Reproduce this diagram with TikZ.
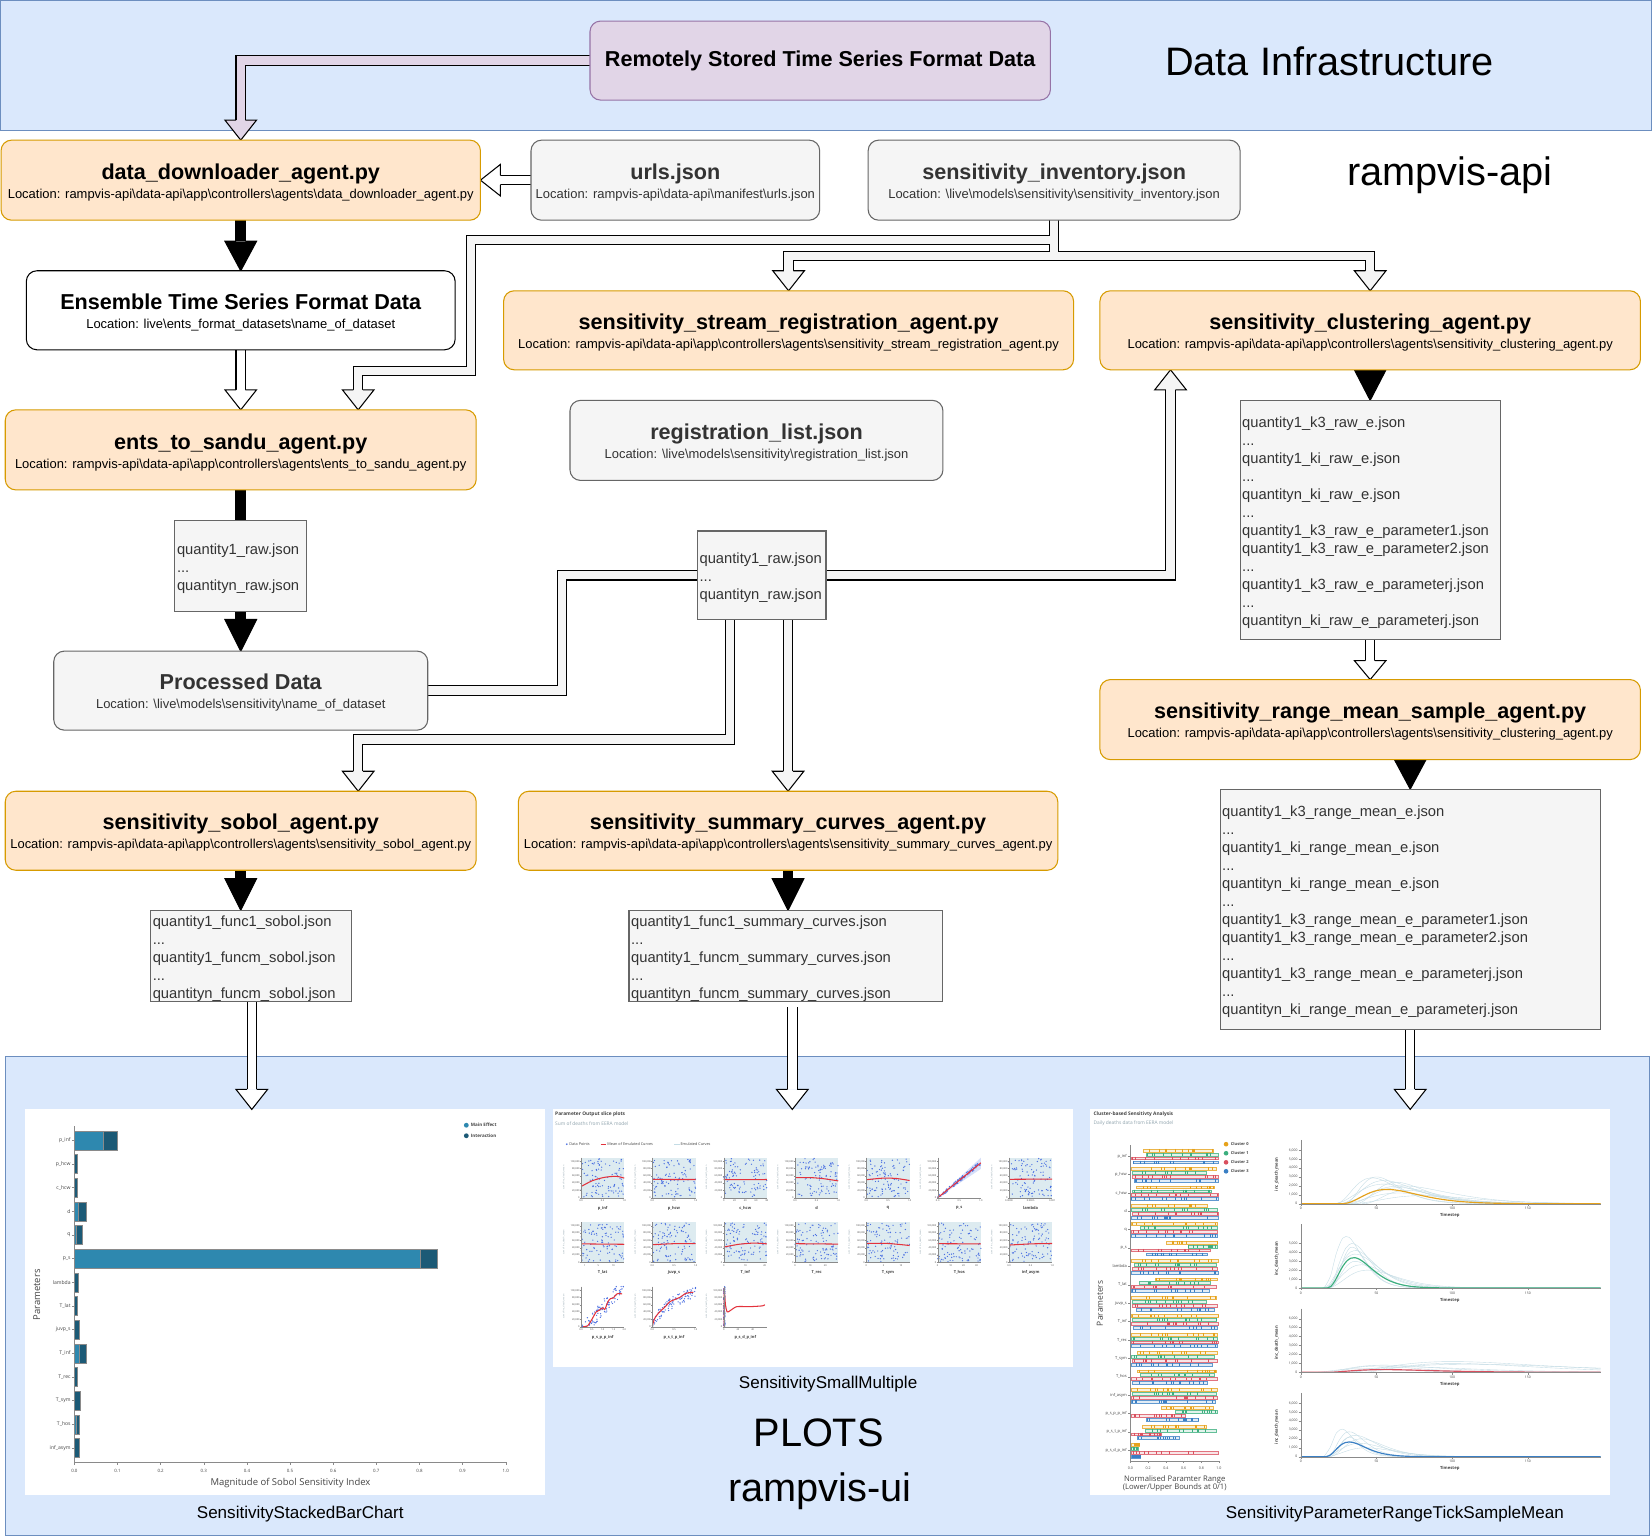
\documentclass[tikz,border=0pt]{standalone}
\usepackage{fontspec}
\setmainfont{Liberation Sans}
\newfontfamily\plotfont{Open Sans}
\usetikzlibrary{calc}

\pgfdeclarelayer{back}
\pgfdeclarelayer{wires}
\pgfsetlayers{back,wires,main}

\definecolor{bandfill}{HTML}{DAE8FC}
\definecolor{bandline}{HTML}{6C8EBF}
\definecolor{agentfill}{HTML}{FFE6CC}
\definecolor{agentline}{HTML}{D79B00}
\definecolor{filefill}{HTML}{F5F5F5}
\definecolor{fileline}{HTML}{666666}
\definecolor{filetext}{HTML}{333333}
\definecolor{srcfill}{HTML}{E1D5E7}
\definecolor{srcline}{HTML}{9673A6}
\definecolor{maineff}{HTML}{2E88AF}
\definecolor{intereff}{HTML}{1C5A76}
\definecolor{dotblue}{HTML}{4B70E2}
\definecolor{meanred}{HTML}{E3323C}
\definecolor{emul}{HTML}{DDEBF0}
\definecolor{emulline}{HTML}{C4DCE5}
\definecolor{cl0}{HTML}{E6A21B}
\definecolor{cl1}{HTML}{3CAF7E}
\definecolor{cl2}{HTML}{D9505F}
\definecolor{cl3}{HTML}{3A7FC4}
\definecolor{axisgray}{HTML}{8A8A8A}
\definecolor{ticktext}{HTML}{444444}
\definecolor{subtext}{HTML}{8FA3AD}

\newcommand\bsl{\textbackslash}
\newcommand\boxttl{\fontsize{20.5}{21}\selectfont\bfseries}
\newcommand\boxloc{\fontsize{12.3}{18}\selectfont}
\newcommand\agenttext[2]{{\boxttl\rule{0pt}{19pt}#1}\\{\boxloc #2}}
\newcommand\plotsize[1]{\plotfont\fontsize{#1}{#1}\selectfont}

\tikzset{
  lbl/.style={inner sep=0pt, outer sep=0pt},
  boxbase/.style={anchor=north west, line width=1pt, inner sep=2pt, outer sep=0pt, align=center, font=\boxloc},
  agent/.style={boxbase, draw=agentline, fill=agentfill, rounded corners=10pt, text=black},
  filebox/.style={boxbase, draw=fileline, fill=filefill, rounded corners=10pt, text=filetext},
  plainbox/.style={boxbase, draw=black, fill=white, rounded corners=10pt, text=black},
  srcbox/.style={boxbase, draw=srcline, fill=srcfill, rounded corners=10pt, text=black},
  listbox/.style={anchor=north west, draw=fileline, fill=filefill, line width=1pt, inner xsep=2pt, inner ysep=0pt, outer sep=0pt, align=left, text=filetext, font=\fontsize{14}{17.1}\selectfont, execute at begin node={\rule{0pt}{15.5pt}}},
  band/.style={fill=bandfill, draw=bandline, line width=1pt},
  plotframe/.style={anchor=north west, fill=white, inner sep=0pt, outer sep=0pt},
  shaftout/.style={line width=10pt, draw=black, line join=miter},
  shaftin/.style={line width=8pt, draw=#1, line join=miter},
  bigtext/.style={lbl, font=\fontsize{37.7}{40}\selectfont},
  caption/.style={lbl, font=\fontsize{16.2}{18}\selectfont},
}

% hollow block arrow: head triangle from a base point to a tip
\newcommand\flexhead[3]{%
  \fill[#1] ($(#2)!15pt!90:(#3)$) -- (#3) -- ($(#2)!15pt!-90:(#3)$) -- cycle;
  \draw[line width=1pt, line join=miter] ($(#2)!4.5pt!90:(#3)$) -- ($(#2)!15pt!90:(#3)$) -- (#3) -- ($(#2)!15pt!-90:(#3)$) -- ($(#2)!4.5pt!-90:(#3)$);}
% block arrow: fill colour, shaft path (ending at base), base, tip
\newcommand\flexarrow[4]{%
  \draw[shaftout] #2;
  \draw[shaftin=#1] #2;
  \flexhead{#1}{#3}{#4}}

% scatter points of one slice plot (unit square)
\newcommand\scatterdots[1]{%
  \foreach \kk in {1,...,100}{%
    \pgfmathsetmacro\px{rnd}%
    \ifcase #1\relax
      \pgfmathsetmacro\py{0.02+0.96*rnd}%
    \or
      \pgfmathsetmacro\py{max(0,min(1,0.88*\px+0.05*rand))}%
    \or
      \pgfmathsetmacro\py{max(0,min(1,1.15*\px-0.12+0.2*rand))}%
    \or
      \pgfmathsetmacro\py{max(0,min(1,0.95*sqrt(\px)-0.05+0.15*rand))}%
    \else
      \pgfmathsetmacro\py{rnd}\pgfmathsetmacro\px{0.03*\px}%
    \fi
    \fill[dotblue] (\px,\py) circle (0.65pt);}}

% one slice plot: left x, bottom y, label, mean curve, point kind, band, x ticks
\newcommand\smpanel[7]{%
  \begin{scope}[shift={(#1pt,-#2pt)}, x=41pt, y=38pt]
    \ifnum#6=1 \fill[emul] (0,0) rectangle (1,1);\fi
    \ifnum#5=1 \fill[dotblue!22] (0,0) -- (1,1) -- (1,0.72) -- cycle;\fi
    \scatterdots{#5}
    \draw[meanred, line width=1pt, line join=round] plot[smooth, tension=0.4] coordinates {#4};
    \draw[axisgray, line width=0.3pt] (0,1) -- (0,0) -- (1,0);
    \foreach \vv/\txt in {0/0, 0.182/{20,000}, 0.364/{40,000}, 0.545/{60,000}, 0.727/{80,000}, 0.909/{100,000}}{%
      \draw[axisgray, line width=0.25pt] (-0.025,\vv) -- (0,\vv);
      \node[lbl, anchor=east, font=\plotsize{2.3}, text=ticktext] at (-0.035,\vv) {\txt};}
    \foreach \xv/\xl in {#7}{%
      \node[lbl, anchor=north, font=\plotsize{2.3}, text=ticktext] at (\xv,-0.05) {\xl};}
    \node[lbl, font=\plotsize{3.8}\bfseries, text=ticktext] at (0.5,-0.26) {#3};
    \node[lbl, rotate=90, font=\plotsize{2.1}, text=subtext] at (-0.4,0.5) {sum of inc\_death\_mean};
  \end{scope}}

% one parameter range bar with sample ticks
\newcommand\tickbar[4]{%
  \pgfmathsetmacro\xa{1073+84*#2}%
  \pgfmathsetmacro\xb{1073+84*#3}%
  \filldraw[fill=#1!15, draw=#1!80, line width=0.3pt] (\xa,#4-1.35) rectangle (\xb,#4+1.35);
  \foreach \kk in {1,...,12}{%
    \pgfmathsetmacro\tx{\xa+(\xb-\xa)*rnd}%
    \draw[#1, line width=0.45pt] (\tx,#4-1.35) -- (\tx,#4+1.35);}}

% one cluster time series: baseline, colour, peak, onset, rise, shape, sample curves, y ticks
\newcommand\tsplot[8]{%
  \begin{scope}[shift={(1234.6pt,-#1pt)}, x=1.437pt, y=0.00848pt]
    \foreach \ampl/\tz/\pp in {#7}{%
      \pgfmathsetmacro\ts{\tz+0.3}%
      \draw[emulline, line width=0.35pt] plot[domain=\ts:198, samples=45, smooth] (\x,{\ampl*(((\x-\tz)/\pp*exp(1-(\x-\tz)/\pp))^#6)});}
    \pgfmathsetmacro\ts{#4+0.3}%
    \draw[#2, line width=1.1pt] (0,0) -- (#4,0) -- plot[domain=\ts:198, samples=70, smooth] (\x,{#3*(((\x-#4)/#5*exp(1-(\x-#4)/#5))^#6)});
    \draw[axisgray, line width=0.35pt] (0,7130) -- (0,0) -- (198,0);
    \foreach \vv/\txt in {#8}{%
      \draw[axisgray, line width=0.3pt] (-1.4,\vv) -- (0,\vv);
      \node[lbl, anchor=east, font=\plotsize{3.2}, text=ticktext] at (-2.2,\vv) {\txt};}
    \foreach \tv in {0,50,100,150}{%
      \draw[axisgray, line width=0.3pt] (\tv,0) -- (\tv,-250);
      \node[lbl, anchor=north, font=\plotsize{3.2}, text=ticktext] at (\tv,-420) {\tv};}
    \node[lbl, font=\plotsize{4}\bfseries, text=ticktext] at (98.4,-1360) {Timestep};
    \node[lbl, rotate=90, font=\plotsize{4}\bfseries, text=ticktext] at (-15.9,3300) {inc\_death\_mean};
  \end{scope}}

\begin{document}
\begin{tikzpicture}[x=1pt, y=-1pt]
\useasboundingbox (0,0) rectangle (1568,1459);
\pgfmathsetseed{2718}

\begin{pgfonlayer}{back}
  \fill[white] (0,0) rectangle (1568,1459);
  \draw[band] (0.5,0.5) rectangle (1567.5,123.5);
  \draw[band] (5,1003) rectangle (1566,1457);

  % ---- stacked Sobol bar chart
  \node[plotframe, minimum width=493pt, minimum height=366pt] (barplot) at (24,1053) {};
  \draw[axisgray, line width=0.5pt] (70.6,1069) -- (70.6,1388) -- (480,1388);
  \foreach \kk/\txt in {0/0.0,1/0.1,2/0.2,3/0.3,4/0.4,5/0.5,6/0.6,7/0.7,8/0.8,9/0.9,10/1.0}{%
    \draw[axisgray, line width=0.4pt] (70.6+40.94*\kk,1388) -- (70.6+40.94*\kk,1390.5);
    \node[lbl, font=\plotsize{4.2}, text=ticktext] at (70.6+40.94*\kk,1396) {\txt};}
  \foreach \lab/\mv/\tv [count=\ii from 0] in {p\_inf/0.066/0.0995, p\_hcw/0/0.006, c\_hcw/0/0.006, d/0.009/0.028, q/0.003/0.018, p\_s/0.802/0.841, lambda/0/0.0086, T\_lat/0/0.007, juvp\_s/0/0.011, T\_inf/0.01/0.027, T\_rec/0/0.007, T\_sym/0/0.013, T\_hos/0.004/0.012, inf\_asym/0/0.011}{%
    \pgfmathsetmacro\yy{1082.3+22.46*\ii}%
    \pgfmathsetmacro\xm{70.6+409.4*\mv}%
    \pgfmathsetmacro\xt{70.6+409.4*\tv}%
    \filldraw[fill=maineff, draw=axisgray, line width=0.3pt] (70.6,\yy-9) rectangle (\xm,\yy+9);
    \filldraw[fill=intereff, draw=axisgray, line width=0.3pt] (\xm,\yy-9) rectangle (\xt,\yy+9);
    \draw[axisgray, line width=0.4pt] (68.3,\yy) -- (70.6,\yy);
    \node[lbl, anchor=east, font=\plotsize{4.8}, text=ticktext] at (67,\yy) {\lab};}
  \node[lbl, font=\plotsize{9}, text=ticktext] at (275.7,1408) {Magnitude of Sobol Sensitivity Index};
  \node[lbl, rotate=90, font=\plotsize{9}, text=ticktext] at (35,1229) {Parameters};
  \fill[maineff] (442.6,1068) circle (2.3pt);
  \node[lbl, anchor=west, font=\plotsize{4.3}\bfseries, text=ticktext] at (447,1068) {Main Effect};
  \fill[intereff] (442.6,1078) circle (2.3pt);
  \node[lbl, anchor=west, font=\plotsize{4.3}\bfseries, text=ticktext] at (447,1078) {Interaction};

  % ---- slice plots small multiple
  \node[plotframe, minimum width=493pt, minimum height=244pt] (smplot) at (525,1053) {};
  \node[lbl, anchor=west, font=\plotsize{4.6}\bfseries, text=ticktext] at (527,1058) {Parameter Output slice plots};
  \node[lbl, anchor=west, font=\plotsize{4.6}, text=subtext] at (527,1066.5) {Sum of deaths from EERA model};
  \fill[dotblue] (538,1086) circle (0.9pt);
  \node[lbl, anchor=west, font=\plotsize{3.6}, text=ticktext] at (540.5,1086) {Data Points};
  \draw[meanred, line width=1pt] (570,1086) -- (575.5,1086);
  \node[lbl, anchor=west, font=\plotsize{3.6}, text=ticktext] at (576.6,1086) {Mean of Emulated Curves};
  \draw[emulline, line width=1pt] (640,1086) -- (645,1086);
  \node[lbl, anchor=west, font=\plotsize{3.6}, text=ticktext] at (646,1086) {Emulated Curves};

  \smpanel{551.5}{1136.8}{p\_inf}{(0,0.28) (0.25,0.42) (0.5,0.5) (0.7,0.53) (0.85,0.53) (1,0.49)}{0}{1}{0/0.0,0.5/0.5,1/1.0}
  \smpanel{619.2}{1136.8}{p\_hcw}{(0,0.46) (0.5,0.455) (1,0.455)}{0}{1}{0/0.0,0.5/0.5,1/1.0}
  \smpanel{686.9}{1136.8}{c\_hcw}{(0,0.455) (0.5,0.45) (1,0.455)}{0}{1}{0/0,0.25/20,0.5/40,0.75/60,1/80}
  \smpanel{754.6}{1136.8}{d}{(0,0.5) (0.4,0.5) (0.7,0.47) (1,0.42)}{0}{1}{0/0.0,0.5/0.5,1/1.0}
  \smpanel{822.3}{1136.8}{q}{(0,0.45) (0.4,0.49) (0.7,0.48) (1,0.43)}{0}{1}{0/0.0,0.5/0.5,1/1.0}
  \smpanel{890.0}{1136.8}{p\_s}{(0,0) (1,0.87)}{1}{0}{0/0.0,0.5/0.5,1/1.0}
  \smpanel{957.7}{1136.8}{lambda}{(0,0.46) (1,0.465)}{0}{1}{0/0.0000,0.5/0.0005,1/0.001}
  \smpanel{551.5}{1198.1}{T\_lat}{(0,0.46) (1,0.45)}{0}{1}{0.08/1,0.4/5,0.75/10}
  \smpanel{619.2}{1198.1}{juvp\_s}{(0,0.44) (0.5,0.465) (1,0.465)}{0}{1}{0/0.0,0.5/0.5,1/1.0}
  \smpanel{686.9}{1198.1}{T\_inf}{(0,0.38) (0.35,0.45) (0.7,0.48) (1,0.46)}{0}{1}{0/0,0.5/10,0.95/20}
  \smpanel{754.6}{1198.1}{T\_rec}{(0,0.465) (1,0.455)}{0}{1}{0/0,0.35/10,0.7/20}
  \smpanel{822.3}{1198.1}{T\_sym}{(0,0.47) (0.5,0.47) (1,0.42)}{0}{1}{0/0,0.4/5,0.8/10}
  \smpanel{890.0}{1198.1}{T\_hos}{(0,0.465) (1,0.46)}{0}{1}{0/0,0.3/10,0.6/20,0.9/30}
  \smpanel{957.7}{1198.1}{inf\_asym}{(0,0.43) (0.5,0.46) (1,0.47)}{0}{1}{0/0.0,0.5/0.5,1/1.0}
  \smpanel{551.5}{1259.2}{p\_s\_p\_p\_inf}{(0.05,0) (0.15,0.02) (0.25,0.18) (0.35,0.37) (0.42,0.41) (0.5,0.47) (0.55,0.43) (0.62,0.62) (0.68,0.7) (0.75,0.72) (0.83,0.82) (0.95,0.82)}{2}{0}{0/0.0,0.25/0.5,0.5/1.0,0.75/1.5,1/2.0}
  \smpanel{619.2}{1259.2}{p\_s\_t\_p\_inf}{(0,0.02) (0.05,0.2) (0.15,0.35) (0.3,0.5) (0.4,0.62) (0.5,0.67) (0.65,0.74) (0.75,0.82) (0.85,0.85) (0.95,0.86)}{3}{0}{0/0.0,0.5/0.5,1/1.0}
  \smpanel{686.9}{1259.2}{p\_s\_d\_p\_inf}{(0.01,0) (0.01,0.95) (0.04,0.55) (0.08,0.37) (0.15,0.4) (0.3,0.5) (0.6,0.5) (0.9,0.52) (0.95,0.55)}{4}{0}{0/0,0.33/20,0.67/40}

  % ---- cluster based sensitivity analysis
  \node[plotframe, minimum width=493pt, minimum height=366pt] (clplot) at (1035,1053) {};
  \node[lbl, anchor=west, font=\plotsize{4.6}\bfseries, text=ticktext] at (1038,1058) {Cluster-based Sensitivty Analysis};
  \node[lbl, anchor=west, font=\plotsize{4.6}, text=subtext] at (1038,1066.5) {Daily deaths data from EERA model};
  \draw[axisgray, line width=0.4pt] (1073,1087) -- (1073,1386.7) -- (1157,1386.7);
  \foreach \kk/\txt in {0/0.0,1/0.2,2/0.4,3/0.6,4/0.8,5/1.0}{%
    \draw[axisgray, line width=0.3pt] (1073+16.8*\kk,1386.7) -- (1073+16.8*\kk,1388.7);
    \node[lbl, font=\plotsize{3.4}, text=ticktext] at (1073+16.8*\kk,1394) {\txt};}
  \node[lbl, font=\plotsize{7.3}, text=ticktext, align=center] at (1115,1408) {Normalised Paramter Range\\(Lower/Upper Bounds at 0/1)};
  \node[lbl, rotate=90, font=\plotsize{8}, text=ticktext] at (1044,1237) {Parameters};
  \foreach \cc/\yy/\txt in {cl0/1086/Cluster 0, cl1/1094.6/Cluster 1, cl2/1103.2/Cluster 2, cl3/1111.7/Cluster 3}{%
    \fill[\cc] (1163.7,\yy) circle (2.2pt);
    \node[lbl, anchor=west, font=\plotsize{3.8}\bfseries, text=ticktext] at (1168.3,\yy) {\txt};}
  \foreach \lab/\aL/\aU/\bL/\bU/\cL/\cU/\dL/\dU [count=\jj from 0] in {
    p\_inf/0.145/0.93/0.18/0.99/0.01/0.985/0.03/0.985,
    p\_hcw/0.01/0.97/0.02/0.85/0.02/0.99/0.04/0.99,
    c\_hcw/0.06/0.95/0.02/0.91/0.01/0.99/0.01/0.99,
    d/0.01/0.87/0.01/0.98/0.02/0.99/0.01/0.99,
    q/0.01/0.98/0.11/0.98/0.01/0.98/0.01/0.98,
    p\_s/0.40/0.98/0.65/0.98/0.01/0.90/0.18/0.87,
    lambda/0.01/0.99/0.04/0.97/0.02/0.98/0.01/0.99,
    T\_lat/0.28/0.98/0.10/0.90/0.01/0.97/0.01/0.89,
    juvp\_s/0.01/0.97/0.02/0.86/0.02/0.98/0.06/0.95,
    T\_inf/0.01/0.99/0.02/0.97/0.01/0.99/0.03/0.98,
    T\_rec/0.01/0.98/0.01/0.98/0.01/0.99/0.01/0.98,
    T\_sym/0.08/0.98/0.01/0.95/0.02/0.98/0.01/0.92,
    T\_hos/0.08/0.97/0.11/0.95/0.01/0.98/0.02/0.87,
    inf\_asym/0.01/0.98/0.02/0.97/0.01/0.98/0.01/0.96,
    p\_s\_p\_p\_inf/0.35/0.93/0.51/0.98/0.01/0.62/0.18/0.77,
    p\_s\_t\_p\_inf/0.13/0.85/0.16/0.97/0.01/0.35/0.08/0.55,
    p\_s\_d\_p\_inf/0.01/0.10/0.01/0.09/0.01/0.99/0.01/0.11}{%
    \pgfmathsetmacro\yy{1097.2+17.46*\jj}%
    \draw[axisgray, line width=0.3pt] (1071,\yy) -- (1073,\yy);
    \node[lbl, anchor=east, font=\plotsize{3.8}, text=ticktext] at (1069.5,\yy) {\lab};
    \tickbar{cl0}{\aL}{\aU}{\yy-5.3}
    \tickbar{cl1}{\bL}{\bU}{\yy-1.6}
    \tickbar{cl2}{\cL}{\cU}{\yy+2.1}
    \tickbar{cl3}{\dL}{\dU}{\yy+5.8}}

  \tsplot{1142.5}{cl0}{1600}{26}{31}{3}{2900/22/25, 2600/25/30, 2200/20/35, 3000/28/22, 1800/30/35, 1200/25/40, 2400/35/28, 900/30/50, 2000/22/45, 1500/40/30}{0/0,1000/{1,000},2000/{2,000},3000/{3,000},4000/{4,000},5000/{5,000},6000/{6,000}}
  \tsplot{1222.5}{cl1}{3400}{17}{18}{3}{5800/15/15, 5000/17/17, 4200/16/20, 3800/14/22, 3000/18/18, 2600/15/25, 4600/20/14, 2000/16/28}{0/0,1000/{1,000},2000/{2,000},3000/{3,000},4000/{4,000},5000/{5,000}}
  \tsplot{1302.5}{cl2}{300}{18}{37}{2}{800/15/40, 1200/30/70, 600/20/50, 1000/40/60, 400/10/30, 900/25/85, 700/20/30}{0/0,1000/{1,000},2000/{2,000},3000/{3,000},4000/{4,000},5000/{5,000},6000/{6,000}}
  \tsplot{1382.6}{cl3}{1650}{16}{16}{3}{3100/15/12, 2800/17/15, 2400/16/20, 2000/18/22, 1500/14/25, 2200/20/12, 1000/15/28}{0/0,1000/{1,000},2000/{2,000},3000/{3,000},4000/{4,000},5000/{5,000},6000/{6,000}}
\end{pgfonlayer}

% ---- boxes
\node[srcbox, minimum width=437pt, minimum height=75pt] (remote) at (560,20) {{\boxttl Remotely Stored Time Series Format Data}};
\node[agent, minimum width=455pt, minimum height=76pt] (dd) at (1,133) {\agenttext{data\_downloader\_agent.py}{Location: rampvis-api\bsl data-api\bsl app\bsl controllers\bsl agents\bsl data\_downloader\_agent.py}};
\node[filebox, minimum width=274pt, minimum height=76pt] (urls) at (504,133) {\agenttext{urls.json}{Location: rampvis-api\bsl data-api\bsl manifest\bsl urls.json}};
\node[filebox, minimum width=353pt, minimum height=76pt] (inv) at (824,133) {\agenttext{sensitivity\_inventory.json}{Location: \bsl live\bsl models\bsl sensitivity\bsl sensitivity\_inventory.json}};
\node[plainbox, minimum width=407pt, minimum height=75pt] (ens) at (25,257) {\agenttext{Ensemble Time Series Format Data}{Location: live\bsl ents\_format\_datasets\bsl name\_of\_dataset}};
\node[agent, minimum width=541pt, minimum height=75pt] (stream) at (478,276) {\agenttext{sensitivity\_stream\_registration\_agent.py}{Location: rampvis-api\bsl data-api\bsl app\bsl controllers\bsl agents\bsl sensitivity\_stream\_registration\_agent.py}};
\node[agent, minimum width=513pt, minimum height=75pt] (clus) at (1044,276) {\agenttext{sensitivity\_clustering\_agent.py}{Location: rampvis-api\bsl data-api\bsl app\bsl controllers\bsl agents\bsl sensitivity\_clustering\_agent.py}};
\node[agent, minimum width=447pt, minimum height=76pt] (ents) at (5,389) {\agenttext{ents\_to\_sandu\_agent.py}{Location: rampvis-api\bsl data-api\bsl app\bsl controllers\bsl agents\bsl ents\_to\_sandu\_agent.py}};
\node[filebox, minimum width=354pt, minimum height=76pt] (reg) at (541,380) {\agenttext{registration\_list.json}{Location: \bsl live\bsl models\bsl sensitivity\bsl registration\_list.json}};
\node[listbox, text width=121pt, minimum height=86pt] (q1) at (166,494) {quantity1\_raw.json\\...\\quantityn\_raw.json};
\node[filebox, minimum width=355pt, minimum height=75pt] (proc) at (51,618) {\agenttext{Processed Data}{Location: \bsl live\bsl models\bsl sensitivity\bsl name\_of\_dataset}};
\node[listbox, text width=118pt, minimum height=84pt] (q2) at (662,504) {quantity1\_raw.json\\...\\quantityn\_raw.json};
\node[listbox, text width=243pt, minimum height=227pt] (k3) at (1177,380) {quantity1\_k3\_raw\_e.json\\...\\quantity1\_ki\_raw\_e.json\\...\\quantityn\_ki\_raw\_e.json\\...\\quantity1\_k3\_raw\_e\_parameter1.json\\quantity1\_k3\_raw\_e\_parameter2.json\\...\\quantity1\_k3\_raw\_e\_parameterj.json\\...\\quantityn\_ki\_raw\_e\_parameterj.json};
\node[agent, minimum width=513pt, minimum height=76pt] (range) at (1044,645) {\agenttext{sensitivity\_range\_mean\_sample\_agent.py}{Location: rampvis-api\bsl data-api\bsl app\bsl controllers\bsl agents\bsl sensitivity\_clustering\_agent.py}};
\node[agent, minimum width=447pt, minimum height=75pt] (sobol) at (5,751) {\agenttext{sensitivity\_sobol\_agent.py}{Location: rampvis-api\bsl data-api\bsl app\bsl controllers\bsl agents\bsl sensitivity\_sobol\_agent.py}};
\node[agent, minimum width=512pt, minimum height=75pt] (summ) at (492,751) {\agenttext{sensitivity\_summary\_curves\_agent.py}{Location: rampvis-api\bsl data-api\bsl app\bsl controllers\bsl agents\bsl sensitivity\_summary\_curves\_agent.py}};
\node[listbox, text width=187pt, minimum height=85pt] (sobj) at (143,864) {quantity1\_func1\_sobol.json\\...\\quantity1\_funcm\_sobol.json\\...\\quantityn\_funcm\_sobol.json};
\node[listbox, text width=294pt, minimum height=85pt] (sumj) at (597,864) {quantity1\_func1\_summary\_curves.json\\...\\quantity1\_funcm\_summary\_curves.json\\...\\quantityn\_funcm\_summary\_curves.json};
\node[listbox, text width=357pt, minimum height=228pt] (rangej) at (1158,749) {quantity1\_k3\_range\_mean\_e.json\\...\\quantity1\_ki\_range\_mean\_e.json\\...\\quantityn\_ki\_range\_mean\_e.json\\...\\quantity1\_k3\_range\_mean\_e\_parameter1.json\\quantity1\_k3\_range\_mean\_e\_parameter2.json\\...\\quantity1\_k3\_range\_mean\_e\_parameterj.json\\...\\quantityn\_ki\_range\_mean\_e\_parameterj.json};

% ---- section titles and captions
\node[bigtext] at (1262,58) {Data Infrastructure};
\node[bigtext] at (1376,166) {rampvis-api};
\node[bigtext] at (777,1360) {PLOTS};
\node[bigtext] at (778,1415) {rampvis-ui};
\node[caption] at (285,1437) {SensitivityStackedBarChart};
\node[caption] at (786,1314) {SensitivitySmallMultiple};
\node[caption] at (1324,1437) {SensitivityParameterRangeTickSampleMean};

% ---- connectors
\begin{pgfonlayer}{wires}
  \coordinate (hb1) at ($(dd.north)+(0,-19)$);
  \flexarrow{srcfill}{(remote.west) -| (hb1)}{hb1}{dd.north}
  \coordinate (hb2) at ($(dd.east)+(19,0)$);
  \flexarrow{white}{(urls.west) -- (hb2)}{hb2}{dd.east}
  \coordinate (hb3) at ($(ens.north)+(0,-28)$);
  \flexarrow{black}{(dd.south) -- (hb3)}{hb3}{ens.north}
  \coordinate (hb4) at ($(ents.north)+(0,-19)$);
  \flexarrow{white}{(ens.south) -- (hb4)}{hb4}{ents.north}

  % inventory fans out to three agents
  \coordinate (t5) at ($(ents.north)+(111.5,0)$);
  \coordinate (hb5) at ($(t5)+(0,-19)$);
  \coordinate (inv1) at (447,228);
  \coordinate (inv2) at (340,352);
  \coordinate (inv3) at ($(stream.north)+(0,-33)$);
  \coordinate (hb6) at ($(stream.north)+(0,-19)$);
  \coordinate (inv4) at ($(clus.north)+(0,-33)$);
  \coordinate (hb7) at ($(clus.north)+(0,-19)$);
  \draw[shaftout] (inv.south) |- (inv1) |- (inv2) -- (hb5);
  \draw[shaftout] (inv.south) |- (inv3) -- (hb6);
  \draw[shaftout] (inv.south) |- (inv4) -- (hb7);
  \draw[shaftin=filefill] (inv.south) |- (inv1) |- (inv2) -- (hb5);
  \draw[shaftin=filefill] (inv.south) |- (inv3) -- (hb6);
  \draw[shaftin=filefill] (inv.south) |- (inv4) -- (hb7);
  \flexhead{filefill}{hb5}{t5}
  \flexhead{filefill}{hb6}{stream.north}
  \flexhead{filefill}{hb7}{clus.north}

  \draw[shaftout] (ents.south) -- (q1.north);
  \coordinate (hb9) at ($(proc.north)+(0,-30)$);
  \flexarrow{black}{(q1.south) -- (hb9)}{hb9}{proc.north}

  % processed quantities
  \coordinate (qp1) at (533.5,655.5);
  \draw[shaftout] (q2.west) -| (qp1) -- (proc.east);
  \draw[shaftin=filefill] (q2.west) -| (qp1) -- (proc.east);
  \coordinate (t11) at ($(clus.south west)+(67,0)$);
  \coordinate (hb11) at ($(t11)+(0,19)$);
  \flexarrow{filefill}{(q2.east) -| (hb11)}{hb11}{t11}
  \coordinate (s12) at ($(q2.south)+(-30,0)$);
  \coordinate (b12) at (340,702);
  \coordinate (t12) at ($(sobol.north)+(111.5,0)$);
  \coordinate (hb12) at ($(t12)+(0,-19)$);
  \flexarrow{filefill}{(s12) |- (b12) -- (hb12)}{hb12}{t12}
  \coordinate (s13) at ($(q2.south)+(25,0)$);
  \coordinate (hb13) at ($(summ.north)+(0,-19)$);
  \flexarrow{filefill}{(s13) -- (hb13)}{hb13}{summ.north}

  \flexhead{black}{clus.south}{k3.north}
  \coordinate (hb15) at ($(range.north)+(0,-18)$);
  \flexarrow{white}{(k3.south) -- (hb15)}{hb15}{range.north}
  \coordinate (hb16) at ($(range.south)+(38,0)$);
  \flexhead{black}{hb16}{rangej.north}

  \coordinate (t17) at ($(sobj.north)+(-10,0)$);
  \coordinate (hb17) at ($(t17)+(0,-30)$);
  \flexarrow{black}{(sobol.south) -- (hb17)}{hb17}{t17}
  \coordinate (t18) at ($(sumj.north)+(2,0)$);
  \coordinate (hb18) at ($(t18)+(0,-30)$);
  \flexarrow{black}{(summ.south) -- (hb18)}{hb18}{t18}

  % results feed the plots
  \coordinate (s19) at ($(sobj.south)+(0.5,0)$);
  \coordinate (t19) at (s19 |- barplot.north);
  \coordinate (hb19) at ($(t19)+(0,-19)$);
  \flexarrow{white}{(s19) -- (hb19)}{hb19}{t19}
  \coordinate (s20) at ($(sumj.south)+(6,5)$);
  \coordinate (t20) at (s20 |- smplot.north);
  \coordinate (hb20) at ($(t20)+(0,-19)$);
  \flexarrow{white}{(s20) -- (hb20)}{hb20}{t20}
  \coordinate (s21) at (rangej.south);
  \coordinate (t21) at (s21 |- clplot.north);
  \coordinate (hb21) at ($(t21)+(0,-19)$);
  \flexarrow{white}{(s21) -- (hb21)}{hb21}{t21}
\end{pgfonlayer}
\end{tikzpicture}
\end{document}
